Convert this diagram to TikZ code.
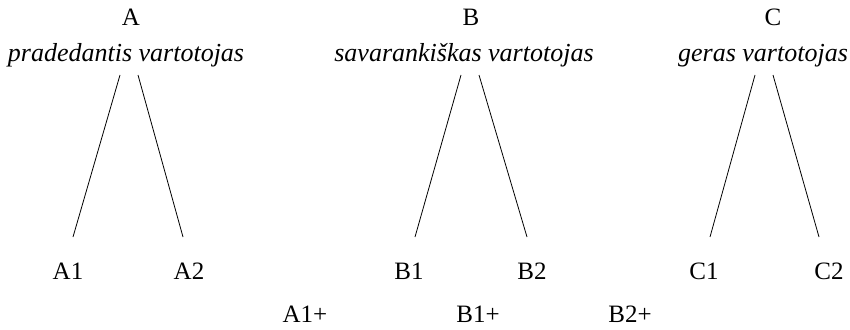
\documentclass[tikz,border=0pt]{standalone}
\usepackage{fontspec}
\setmainfont{Liberation Serif}
\usetikzlibrary{calc}
\begin{document}
\begin{tikzpicture}[x=1pt,y=-1pt,
  lbl/.style={inner sep=0pt, anchor=base, font=\fontsize{25}{30}\selectfont},
  ilbl/.style={lbl, font=\fontsize{26}{30}\selectfont\itshape},
  edge/.style={draw=black, line width=0.8pt}]
\useasboundingbox (0,0) rectangle (850,329);
% top labels
\node[lbl]  (A)  at (131,26) {A};
\node[ilbl] (Ai) at (126,62) {pradedantis vartotojas};
\node[lbl]  (B)  at (471,26) {B};
\node[ilbl] (Bi) at (464,62) {savarankiškas vartotojas};
\node[lbl]  (C)  at (773,26) {C};
\node[ilbl] (Ci) at (763,62) {geras vartotojas};
% leaves
\node[lbl] (A1) at (68,279) {A1};
\node[lbl] (A2) at (189,279) {A2};
\node[lbl] (B1) at (409,279) {B1};
\node[lbl] (B2) at (532,279) {B2};
\node[lbl] (C1) at (704,279) {C1};
\node[lbl] (C2) at (829,279) {C2};
% bottom row
\node[lbl] (A1p) at (305,322) {A1+};
\node[lbl] (B1p) at (478,322) {B1+};
\node[lbl] (B2p) at (630,322) {B2+};
% connectors
\coordinate (aL) at (120,75); \coordinate (aR) at (138,75);
\coordinate (bL) at (461,75); \coordinate (bR) at (479,75);
\coordinate (cL) at (755,75); \coordinate (cR) at (773,75);
\coordinate (a1) at (73,237); \coordinate (a2) at (183,237);
\coordinate (b1) at (415,237); \coordinate (b2) at (527,237);
\coordinate (c1) at (710,237); \coordinate (c2) at (819,237);
\draw[edge] (aL) -- (a1);
\draw[edge] (aR) -- (a2);
\draw[edge] (bL) -- (b1);
\draw[edge] (bR) -- (b2);
\draw[edge] (cL) -- (c1);
\draw[edge] (cR) -- (c2);
\end{tikzpicture}
\end{document}
